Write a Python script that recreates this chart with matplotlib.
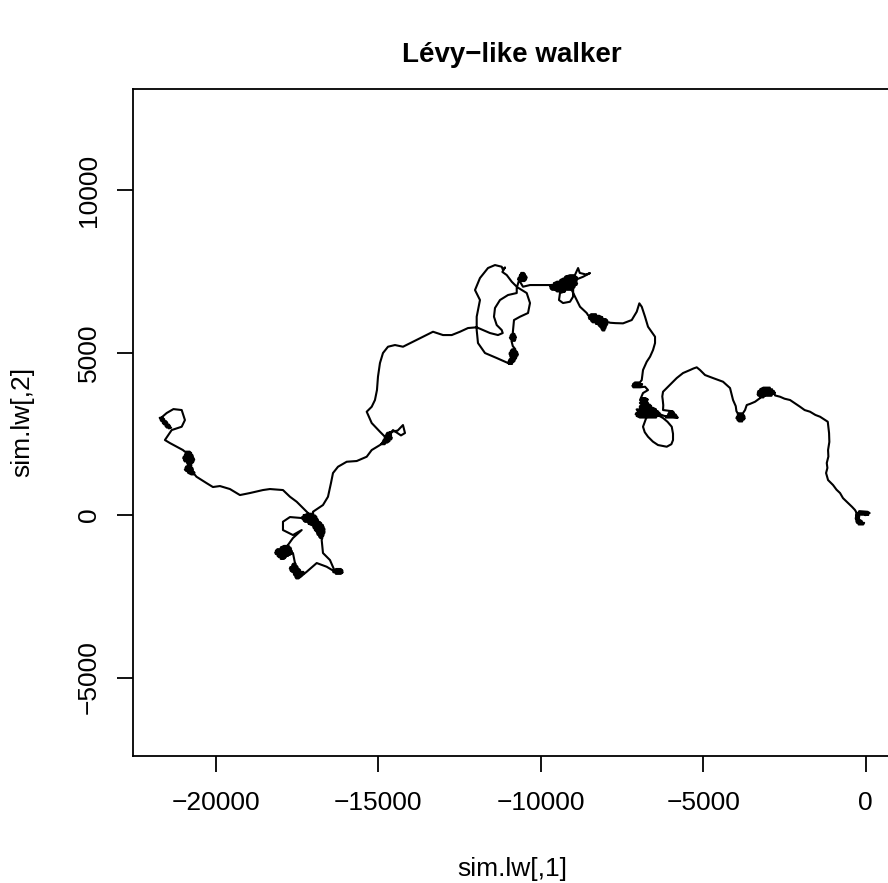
import numpy as np
import matplotlib
matplotlib.use("Agg")
import matplotlib.pyplot as plt

plt.rcParams['font.family'] = ['Liberation Sans', 'DejaVu Sans']

# walk, from the origin (right) to the far left end;
# the dense tangles are traced as tight back-and-forth passes
seg_origin = [(0, 0), (80, 10), (-280, 10), (-260, 60), (120, 60), (60, 100), (-200, 120),
              (-300, -40), (-200, -40), (-210, -90), (-310, -90), (-300, -140), (-200, -140),
              (-120, -190), (-290, -190), (-270, -240), (-50, -240), (-80, -290), (-220, -290),
              (-300, 100), (-330, 154)]
seg_east = [(-420, 250), (-585, 409), (-700, 520), (-791, 677), (-900, 780), (-1006, 923),
            (-1160, 1077), (-1221, 1292), (-1180, 1450), (-1200, 1600), (-1150, 1800), (-1160, 2000),
            (-1120, 2250), (-1129, 2523), (-1169, 2871), (-1406, 3025), (-1550, 3080), (-1714, 3179),
            (-1880, 3230), (-2022, 3332), (-2200, 3450), (-2329, 3539), (-2500, 3580), (-2637, 3640),
            (-2790, 3680),
            (-2830, 3820), (-3300, 3820), (-3320, 3770), (-2800, 3770), (-2850, 3720), (-3330, 3720),
            (-3300, 3670), (-2900, 3670), (-2880, 3870), (-3250, 3870), (-3150, 3920), (-2950, 3920),
            (-3150, 3620), (-3250, 3620), (-3250, 3600),
            (-3406, 3486), (-3560, 3420), (-3662, 3385), (-3714, 3231),
            (-3780, 3130), (-3900, 3130), (-3940, 3080), (-3760, 3080), (-3730, 3030), (-3960, 3030),
            (-3980, 2980), (-3720, 2980), (-3760, 2930), (-3950, 2930), (-3900, 2880), (-3800, 2880),
            (-3980, 3200),
            (-4000, 3350), (-4083, 3539), (-4130, 3720), (-4176, 3908), (-4391, 4102), (-4550, 4160),
            (-4699, 4215), (-4945, 4308), (-5099, 4462), (-5200, 4545), (-5300, 4510), (-5406, 4462),
            (-5622, 4369), (-5816, 4215), (-5950, 4080), (-6083, 3948), (-6237, 3794), (-6260, 3650),
            (-6246, 3539), (-6230, 3380), (-6237, 3231)]
seg_dip = [(-6000, 3200), (-5950, 3200), (-5900, 3150), (-6050, 3150), (-6080, 3100), (-5860, 3100),
           (-5820, 3050), (-6120, 3050), (-6150, 3000), (-5780, 3000), (-6200, 3050), (-6330, 3100),
           (-6350, 3150), (-7050, 3150), (-7080, 3100), (-6350, 3100), (-6400, 3050), (-7050, 3050),
           (-6950, 3000), (-6450, 3000), (-6400, 3200), (-7000, 3200), (-7050, 3250), (-6450, 3250),
           (-6550, 3300), (-6950, 3300), (-6950, 3350), (-6600, 3350), (-6650, 3400), (-6900, 3400),
           (-6950, 3450), (-6700, 3450), (-6750, 3500), (-6900, 3500), (-6850, 3550), (-6700, 3550),
           (-6780, 3600), (-6900, 3600), (-6750, 3000),
           (-6853, 2717), (-6800, 2550), (-6699, 2409), (-6550, 2260), (-6392, 2154), (-6123, 2102),
           (-5980, 2180), (-5930, 2308), (-5930, 2500), (-5969, 2717), (-6100, 2870), (-6237, 2985),
           (-6400, 3080), (-6550, 3200), (-6700, 3300), (-6850, 3400), (-6945, 3539), (-6853, 3754),
           (-6699, 3846), (-6791, 3948),
           (-6950, 3930), (-7150, 3930), (-7180, 3980), (-6900, 3980), (-6880, 4030), (-7160, 4030),
           (-7100, 4080), (-6950, 4080), (-6892, 4154)]
seg_ridge = [(-6853, 4462), (-6739, 4717), (-6637, 4871), (-6545, 5077), (-6483, 5292), (-6483, 5486),
             (-6600, 5650), (-6699, 5794), (-6791, 6102), (-6892, 6409), (-6966, 6514), (-7046, 6256),
             (-7200, 6000), (-7468, 5898), (-7700, 5905), (-7868, 5917),
             (-7900, 5930), (-8400, 5930), (-8450, 5980), (-7950, 5980), (-8000, 6030), (-8500, 6030),
             (-8520, 6080), (-8100, 6080), (-8200, 6130), (-8500, 6130), (-8450, 6180), (-8300, 6180),
             (-8300, 5880), (-7950, 5880), (-7980, 5830), (-8200, 5830), (-8150, 5780), (-8000, 5780),
             (-8020, 5730), (-8130, 5730), (-8100, 5680), (-8040, 5680), (-8545, 6150),
             (-8585, 6216), (-8791, 6409), (-8945, 6717), (-9046, 6923),
             (-9100, 6930), (-9650, 6930), (-9700, 6980), (-9000, 6980), (-8950, 7030), (-9715, 7030),
             (-9680, 7080), (-8900, 7080), (-8880, 7130), (-9600, 7130), (-9500, 7180), (-8900, 7180),
             (-8900, 7230), (-9400, 7230), (-9300, 7280), (-8880, 7280), (-8900, 7330), (-9250, 7330),
             (-9100, 7380), (-8950, 7380), (-8850, 7600), (-8800, 7450), (-8600, 7400), (-8484, 7446),
             (-8700, 7330), (-8900, 7250), (-9000, 7000),
             (-9006, 6717), (-9099, 6563), (-9314, 6523), (-9438, 6616), (-9407, 6831),
             (-9250, 6880), (-9500, 6880), (-9715, 7077),
             (-10022, 7077), (-10330, 7077), (-10545, 7025),
             (-10650, 7200), (-10500, 7200), (-10450, 7250), (-10700, 7250), (-10680, 7300),
             (-10430, 7300), (-10450, 7350), (-10650, 7350), (-10620, 7400), (-10480, 7400),
             (-10520, 7450), (-10600, 7450), (-10730, 7015)]
seg_loops = [(-10431, 6831), (-10330, 6523), (-10391, 6216), (-10638, 6102), (-10822, 6000),
             (-10853, 5692), (-10860, 5600),
             (-10800, 5560), (-10900, 5560), (-10930, 5510), (-10780, 5510), (-10760, 5460),
             (-10950, 5460), (-10920, 5410), (-10780, 5410), (-10800, 5360), (-10900, 5360),
             (-10860, 5200),
             (-10780, 5100), (-10880, 5100), (-10920, 5050), (-10760, 5050), (-10720, 5000),
             (-10950, 5000), (-10960, 4950), (-10700, 4950), (-10720, 4900), (-10940, 4900),
             (-10920, 4850), (-10750, 4850), (-10780, 4800), (-10950, 4800), (-10980, 4750),
             (-10800, 4750), (-10850, 4700), (-11000, 4700), (-10980, 4650), (-10880, 4650),
             (-11006, 4677),
             (-11354, 4831), (-11715, 4985), (-11930, 5292), (-11970, 5692), (-11970, 6102),
             (-11869, 6616), (-12022, 6923), (-11869, 7292), (-11623, 7600), (-11407, 7692),
             (-11200, 7640), (-11160, 7539), (-11100, 7620), (-11180, 7480), (-11046, 7385),
             (-10892, 7179), (-10738, 7025),
             (-10738, 6831), (-11006, 6770), (-11253, 6616), (-11407, 6370), (-11438, 6102),
             (-11354, 5846), (-11200, 5692), (-11169, 5600), (-11315, 5538), (-11561, 5600),
             (-11776, 5692), (-11970, 5776), (-12237, 5754), (-12484, 5640), (-12738, 5538),
             (-13006, 5538), (-13314, 5640), (-13622, 5486), (-13930, 5332), (-14237, 5179),
             (-14484, 5231), (-14699, 5179), (-14853, 4985), (-14946, 4677), (-15007, 4256),
             (-15038, 3846), (-15100, 3539), (-15200, 3332), (-15354, 3179), (-15200, 2831),
             (-14946, 2563), (-14792, 2409),
             (-14650, 2530), (-14720, 2530), (-14750, 2480), (-14620, 2480), (-14600, 2430),
             (-14780, 2430), (-14800, 2380), (-14580, 2380), (-14600, 2330), (-14820, 2330),
             (-14850, 2280), (-14650, 2280), (-14720, 2230), (-14880, 2230), (-14900, 2180),
             (-14800, 2180), (-14650, 2550), (-14400, 2600), (-14238, 2769), (-14176, 2523),
             (-14300, 2450), (-14545, 2615), (-14700, 2350), (-14946, 2154)]
seg_south = [(-15200, 2000), (-15354, 1794), (-15661, 1662), (-15969, 1640), (-16237, 1486),
             (-16391, 1292), (-16453, 985), (-16545, 563), (-16699, 308), (-17006, 102),
             (-17000, 40), (-17150, 40), (-17300, -10), (-16950, -10), (-16900, -60), (-17340, -60),
             (-17340, -110), (-16880, -110), (-16850, -160), (-17300, -160), (-17250, -210),
             (-16800, -210), (-16750, -260), (-17150, -260), (-17050, -310), (-16700, -310),
             (-17354, -92),
             (-17715, -62), (-17930, -206), (-17930, -462), (-17623, -615), (-17354, -462),
             (-17623, -708), (-17815, -975),
             (-17750, -950), (-17900, -950), (-18000, -1000), (-17700, -1000), (-17680, -1050),
             (-18100, -1050), (-18150, -1100), (-17660, -1100), (-17650, -1150), (-18170, -1150),
             (-18150, -1200), (-17700, -1200), (-17780, -1250), (-18100, -1250), (-18050, -1300),
             (-17850, -1300), (-17900, -1350), (-18000, -1350), (-17623, -1169),
             (-17561, -1477),
             (-17540, -1500), (-17620, -1500), (-17650, -1550), (-17520, -1550), (-17480, -1600),
             (-17700, -1600), (-17720, -1650), (-17450, -1650), (-17400, -1700), (-17700, -1700),
             (-17650, -1750), (-17300, -1750), (-17300, -1800), (-17600, -1800), (-17580, -1850),
             (-17350, -1850), (-17400, -1900), (-17550, -1900), (-17520, -1950), (-17450, -1950),
             (-17200, -1745),
             (-16892, -1477), (-16585, -1591), (-16330, -1745),
             (-16300, -1660), (-16150, -1660), (-16100, -1710), (-16350, -1710), (-16380, -1760),
             (-16090, -1760), (-16150, -1810), (-16300, -1810),
             (-16484, -1385), (-16699, -1169), (-16739, -769),
             (-16720, -710), (-16780, -710), (-16820, -660), (-16700, -660), (-16680, -610),
             (-16860, -610), (-16880, -560), (-16660, -560), (-16650, -510), (-16900, -510),
             (-16950, -460), (-16650, -460), (-16660, -410), (-16980, -410), (-17000, -360),
             (-16680, -360), (-17100, 0), (-17200, 102)]
seg_west = [(-17508, 409), (-17715, 563), (-17930, 769), (-18331, 800), (-18546, 769), (-18946, 677),
            (-19254, 615), (-19562, 800), (-19869, 892), (-20085, 862), (-20285, 985), (-20592, 1179),
            (-20650, 1250), (-20750, 1250), (-20850, 1300), (-20650, 1300), (-20700, 1350),
            (-20900, 1350), (-20950, 1400), (-20700, 1400), (-20720, 1450), (-20930, 1450),
            (-20900, 1500), (-20750, 1500), (-20750, 1550), (-20850, 1550), (-20880, 1600),
            (-20720, 1600), (-20680, 1650), (-20950, 1650), (-20980, 1700), (-20660, 1700),
            (-20680, 1750), (-21000, 1750), (-20980, 1800), (-20700, 1800), (-20720, 1850),
            (-20950, 1850), (-20920, 1900), (-20750, 1900), (-20800, 1950), (-20950, 1950),
            (-21008, 2000),
            (-21408, 2215), (-21562, 2308), (-21354, 2615), (-21046, 2717),
            (-20946, 2923), (-21046, 3231), (-21300, 3260), (-21508, 3139), (-21680, 2990),
            (-21720, 2990), (-21630, 2990), (-21580, 2940), (-21700, 2940), (-21670, 2890),
            (-21530, 2890), (-21490, 2840), (-21630, 2840), (-21590, 2790), (-21450, 2790),
            (-21405, 2740), (-21545, 2740), (-21500, 2690), (-21370, 2690), (-21430, 2670)]

x_ticks = [-20000, -15000, -10000, -5000, 0]
y_ticks = [-5000, 0, 5000, 10000]
x_range = (-22535, 840)
y_range = (-7415, 13117)

walk = np.array(seg_origin + seg_east + seg_dip + seg_ridge + seg_loops + seg_south + seg_west)

fig = plt.figure(figsize=(8.88, 8.83), dpi=100)
ax = fig.add_axes([0.1501, 0.1438, 0.8556, 0.7557])
ax.plot(walk[:, 0], walk[:, 1], color='black', lw=1.5, solid_joinstyle='round')

ax.set_xlim(*x_range)
ax.set_ylim(*y_range)
ax.set_xticks(x_ticks)
ax.set_yticks(y_ticks)
ax.set_xticklabels([f"{v}".replace('-', '\u2212') for v in x_ticks])
ax.set_yticklabels([f"{v}".replace('-', '\u2212') for v in y_ticks], rotation=90, va='center')
ax.tick_params(length=11.5, width=1.3, labelsize=19, pad=12, color='black')
ax.tick_params(axis='x', pad=14)
for s in ax.spines.values():
    s.set_linewidth(1.3)
    s.set_color('black')

fig.text(0.5765, 1 - 55 / 883, "L\u00e9vy\u2212like walker", ha='center', va='center',
         fontsize=20, fontweight='bold')
fig.text(0.5765, 1 - 869 / 883, "sim.lw[,1]", ha='center', va='center', fontsize=19)
fig.text(22 / 888, 0.1438 + 0.7557 / 2, "sim.lw[,2]", ha='center', va='center', fontsize=19,
         rotation=90)

fig.savefig("out.png", dpi=100)
